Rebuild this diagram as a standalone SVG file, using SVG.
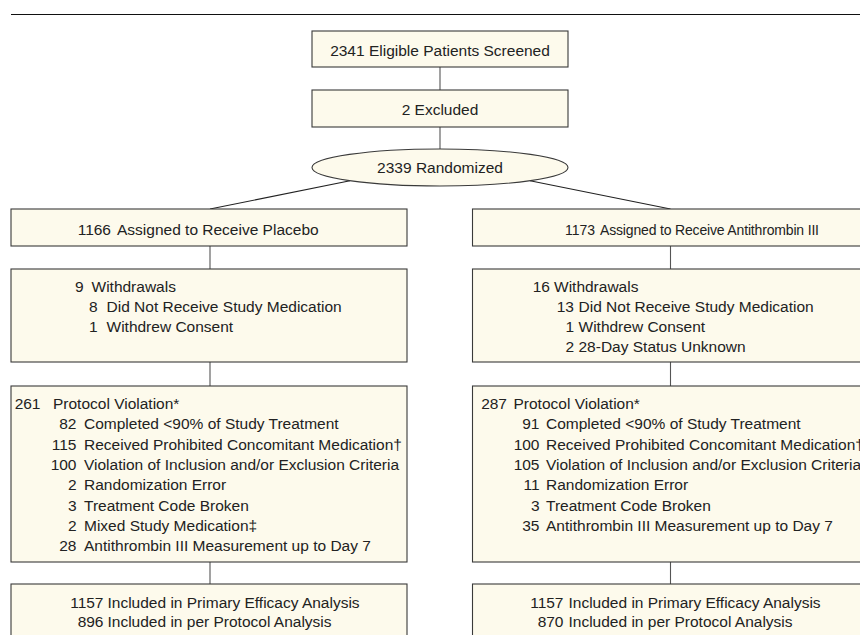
<svg xmlns="http://www.w3.org/2000/svg" width="860" height="635" viewBox="0 0 860 635">
<style>
.box{fill:#fdfaec;stroke:#3a3a3a;stroke-width:1.1}
.conn{stroke:#555;stroke-width:1.1;fill:none}
.diag{stroke:#222;stroke-width:1.1;fill:none}
text{font-family:"Liberation Sans",Arial,sans-serif;font-size:15.5px;fill:#222}
.c{text-anchor:middle}
.e{text-anchor:end}
.n{font-size:14px}
</style>
<rect width="860" height="635" fill="#ffffff"/>
<line x1="11" y1="14.5" x2="860" y2="14.5" stroke="#111" stroke-width="1.2"/>
<g id="connectors">
<line class="conn" x1="440" y1="67" x2="440" y2="90"/>
<line class="conn" x1="440" y1="127" x2="440" y2="149"/>
<line class="diag" x1="350" y1="180.7" x2="210" y2="209"/>
<line class="diag" x1="530" y1="180.7" x2="670.5" y2="209"/>
<line class="conn" x1="210" y1="246" x2="210" y2="269"/>
<line class="conn" x1="210" y1="362" x2="210" y2="386"/>
<line class="conn" x1="210" y1="562" x2="210" y2="584"/>
<line class="conn" x1="670.5" y1="246" x2="670.5" y2="269"/>
<line class="conn" x1="670.5" y1="362" x2="670.5" y2="386"/>
<line class="conn" x1="670.5" y1="562" x2="670.5" y2="584"/>
</g>
<g id="screened">
<rect class="box" x="312" y="31" width="256" height="36"/>
<text class="c" x="440" y="55.5">2341 Eligible Patients Screened</text>
</g>
<g id="excluded">
<rect class="box" x="312" y="90" width="256" height="37"/>
<text class="c" x="440" y="115">2 Excluded</text>
</g>
<g id="randomized">
<ellipse class="box" cx="440" cy="167.5" rx="128" ry="18.5"/>
<text class="c" x="440" y="173">2339 Randomized</text>
</g>
<g id="placebo">
<rect class="box" x="11" y="209" width="396" height="37"/>
<text class="e" x="111" y="235">1166</text>
<text x="117" y="235">Assigned to Receive Placebo</text>
</g>
<g id="antithrombin">
<rect class="box" x="472.5" y="209" width="396" height="37"/>
<text class="e n" x="595" y="235">1173</text>
<text class="n" x="600" y="235" textLength="219" lengthAdjust="spacing">Assigned to Receive Antithrombin III</text>
</g>
<g id="placebo-withdrawals">
<rect class="box" x="11" y="269" width="396" height="93"/>
<text class="e" x="83.5" y="292">9</text><text x="91.5" y="292">Withdrawals</text>
<text class="e" x="97.5" y="312">8</text><text x="106.5" y="312">Did Not Receive Study Medication</text>
<text class="e" x="97.5" y="332">1</text><text x="106.5" y="332">Withdrew Consent</text>
</g>
<g id="at-withdrawals">
<rect class="box" x="472.5" y="269" width="396" height="93"/>
<text class="e" x="550" y="292">16</text><text x="554" y="292">Withdrawals</text>
<text class="e" x="574" y="312">13</text><text x="578.5" y="312">Did Not Receive Study Medication</text>
<text class="e" x="574" y="332">1</text><text x="578.5" y="332">Withdrew Consent</text>
<text class="e" x="574" y="352">2</text><text x="578.5" y="352">28-Day Status Unknown</text>
</g>
<g id="placebo-violations">
<rect class="box" x="11" y="386" width="396" height="176"/>
<text class="e" x="40.5" y="409">261</text><text x="53" y="409">Protocol Violation*</text>
<text class="e" x="76.5" y="429.3">82</text><text x="84" y="429.3">Completed &lt;90% of Study Treatment</text>
<text class="e" x="76.5" y="449.6">115</text><text x="84" y="449.6">Received Prohibited Concomitant Medication†</text>
<text class="e" x="76.5" y="469.9">100</text><text x="84" y="469.9">Violation of Inclusion and/or Exclusion Criteria</text>
<text class="e" x="76.5" y="490.2">2</text><text x="84" y="490.2">Randomization Error</text>
<text class="e" x="76.5" y="510.5">3</text><text x="84" y="510.5">Treatment Code Broken</text>
<text class="e" x="76.5" y="530.8">2</text><text x="84" y="530.8">Mixed Study Medication‡</text>
<text class="e" x="76.5" y="551.1">28</text><text x="84" y="551.1">Antithrombin III Measurement up to Day 7</text>
</g>
<g id="at-violations">
<rect class="box" x="472.5" y="386" width="396" height="176"/>
<text class="e" x="507" y="409">287</text><text x="513.5" y="409">Protocol Violation*</text>
<text class="e" x="539.5" y="429.3">91</text><text x="546" y="429.3">Completed &lt;90% of Study Treatment</text>
<text class="e" x="539.5" y="449.6">100</text><text x="546" y="449.6">Received Prohibited Concomitant Medication†</text>
<text class="e" x="539.5" y="469.9">105</text><text x="546" y="469.9">Violation of Inclusion and/or Exclusion Criteria</text>
<text class="e" x="539.5" y="490.2">11</text><text x="546" y="490.2">Randomization Error</text>
<text class="e" x="539.5" y="510.5">3</text><text x="546" y="510.5">Treatment Code Broken</text>
<text class="e" x="539.5" y="530.8">35</text><text x="546" y="530.8">Antithrombin III Measurement up to Day 7</text>
</g>
<g id="placebo-analysis">
<rect class="box" x="11" y="584" width="396" height="70"/>
<text class="e" x="103.5" y="607.8">1157</text><text x="107.5" y="607.8">Included in Primary Efficacy Analysis</text>
<text class="e" x="103.5" y="627.2">896</text><text x="107.5" y="627.2">Included in per Protocol Analysis</text>
</g>
<g id="at-analysis">
<rect class="box" x="472.5" y="584" width="396" height="70"/>
<text class="e" x="563.5" y="607.8">1157</text><text x="568.5" y="607.8">Included in Primary Efficacy Analysis</text>
<text class="e" x="563.5" y="627.2">870</text><text x="568.5" y="627.2">Included in per Protocol Analysis</text>
</g>
</svg>
